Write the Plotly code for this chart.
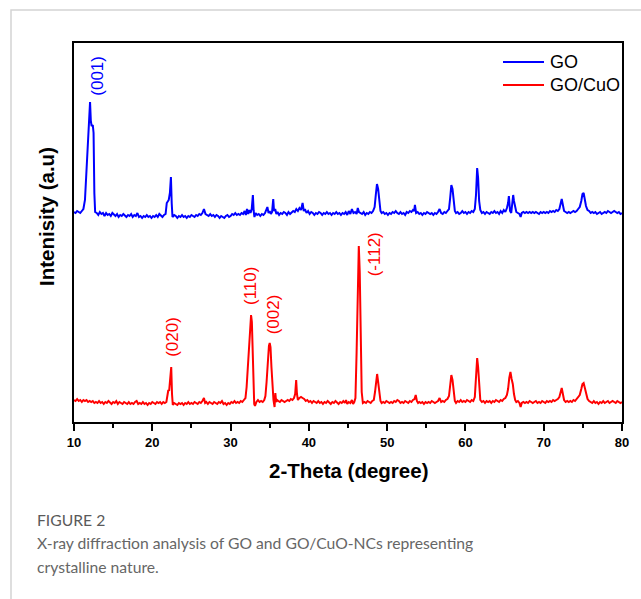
import plotly.graph_objects as go

# 2-theta positions (degree) and intensities (a.u.) for GO
go_theta = [
    10.0, 10.2, 10.4, 10.6, 10.8, 11.0, 11.2, 11.4, 11.6, 11.8, 11.95, 12.05, 12.15, 12.25, 12.4, 12.5, 12.6, 12.7,
    12.9, 13.1, 13.3, 13.5, 13.7, 13.9, 14.1, 14.3, 14.5, 14.7, 14.9, 15.1, 15.3, 15.5, 15.7, 15.9, 16.1, 16.3,
    16.5, 16.7, 16.9, 17.1, 17.3, 17.5, 17.7, 17.9, 18.1, 18.3, 18.5, 18.7, 18.9, 19.1, 19.3, 19.5, 19.7, 19.9,
    20.1, 20.3, 20.5, 20.7, 20.9, 21.1, 21.3, 21.5, 21.7, 21.85, 22.0, 22.1, 22.25, 22.38, 22.48, 22.58, 22.8,
    23.0, 23.2, 23.4, 23.6, 23.8, 24.0, 24.2, 24.4, 24.6, 24.8, 25.0, 25.2, 25.4, 25.6, 25.8, 26.0, 26.2, 26.4,
    26.6, 26.8, 27.0, 27.2, 27.4, 27.6, 27.8, 28.0, 28.2, 28.4, 28.6, 28.8, 29.0, 29.2, 29.4, 29.6, 29.8, 30.0,
    30.2, 30.4, 30.6, 30.8, 31.0, 31.2, 31.4, 31.6, 31.8, 31.95, 32.1, 32.25, 32.4, 32.55, 32.7, 32.85, 32.95,
    33.05, 33.2, 33.4, 33.6, 33.8, 34.0, 34.2, 34.4, 34.55, 34.7, 34.85, 35.0, 35.15, 35.3, 35.45, 35.55, 35.7,
    35.85, 36.0, 36.2, 36.4, 36.6, 36.8, 37.0, 37.2, 37.4, 37.6, 37.8, 38.0, 38.2, 38.4, 38.6, 38.8, 39.0, 39.2,
    39.35, 39.5, 39.7, 39.9, 40.1, 40.3, 40.5, 40.7, 40.9, 41.1, 41.3, 41.5, 41.7, 41.9, 42.1, 42.3, 42.5, 42.7,
    42.9, 43.1, 43.3, 43.5, 43.7, 43.9, 44.1, 44.3, 44.5, 44.7, 44.9, 45.1, 45.3, 45.5, 45.7, 45.9, 46.1, 46.25,
    46.4, 46.6, 46.8, 47.0, 47.2, 47.4, 47.6, 47.8, 48.0, 48.2, 48.4, 48.55, 48.7, 48.85, 49.0, 49.15, 49.3,
    49.5, 49.7, 49.9, 50.1, 50.3, 50.5, 50.7, 50.9, 51.1, 51.3, 51.5, 51.7, 51.9, 52.1, 52.3, 52.5, 52.7, 52.9,
    53.1, 53.3, 53.45, 53.55, 53.7, 53.9, 54.1, 54.3, 54.5, 54.7, 54.9, 55.1, 55.3, 55.5, 55.7, 55.9, 56.1,
    56.3, 56.5, 56.7, 56.9, 57.1, 57.3, 57.5, 57.7, 57.9, 58.05, 58.2, 58.35, 58.5, 58.65, 58.8, 59.0, 59.2,
    59.4, 59.6, 59.8, 60.0, 60.2, 60.4, 60.6, 60.8, 61.0, 61.2, 61.35, 61.5, 61.62, 61.75, 61.9, 62.1, 62.3,
    62.5, 62.7, 62.9, 63.1, 63.3, 63.5, 63.7, 63.9, 64.1, 64.3, 64.5, 64.7, 64.9, 65.1, 65.3, 65.45, 65.55,
    65.7, 65.85, 65.95, 66.1, 66.2, 66.35, 66.5, 66.7, 66.9, 67.05, 67.2, 67.4, 67.6, 67.8, 68.0, 68.2, 68.4,
    68.6, 68.8, 69.0, 69.2, 69.4, 69.6, 69.8, 70.0, 70.2, 70.4, 70.6, 70.8, 71.0, 71.2, 71.4, 71.6, 71.8, 72.0,
    72.15, 72.3, 72.45, 72.6, 72.8, 73.0, 73.2, 73.4, 73.6, 73.8, 74.0, 74.2, 74.4, 74.6, 74.8, 74.95, 75.1,
    75.25, 75.4, 75.6, 75.8, 76.0, 76.2, 76.4, 76.6, 76.8, 77.0, 77.2, 77.4, 77.6, 77.8, 78.0, 78.2, 78.4, 78.6,
    78.8, 79.0, 79.2, 79.4, 79.6, 79.8, 80.0,
]
go_intensity = [
    21, 20, 22, 21, 20, 22, 24, 33, 60, 95, 120, 131, 112, 107, 108, 100, 40, 21,
    20, 18, 21, 19, 20, 17, 20, 18, 19, 17, 20, 18, 17, 19, 16, 18, 17, 19,
    17, 16, 18, 17, 19, 16, 18, 17, 20, 16, 17, 15, 17, 16, 18, 16, 17, 15,
    17, 16, 18, 16, 19, 17, 16, 18, 19, 30, 33, 33, 40, 56, 30, 16, 18,
    17, 15, 17, 16, 18, 16, 17, 15, 17, 16, 18, 17, 16, 18, 17, 19, 18, 20,
    24, 19, 18, 17, 19, 17, 18, 16, 18, 17, 15, 17, 16, 15, 17, 18, 16, 17,
    19, 18, 20, 18, 19, 18, 20, 19, 22, 18, 24, 19, 23, 20, 24, 38, 22,
    16, 20, 18, 19, 17, 19, 18, 20, 23, 26, 20, 22, 19, 21, 34, 22, 24,
    19, 21, 18, 20, 19, 21, 20, 18, 21, 19, 21, 22, 21, 24, 22, 25, 23, 30,
    22, 24, 20, 22, 19, 21, 20, 18, 20, 19, 21, 20, 18, 20, 19, 21, 19, 20,
    18, 20, 19, 21, 19, 20, 18, 20, 19, 21, 18, 22, 19, 24, 20, 21, 19, 25,
    21, 20, 19, 21, 18, 20, 19, 21, 20, 22, 26, 38, 49, 44, 28, 22, 20,
    21, 19, 20, 18, 20, 19, 21, 20, 22, 20, 19, 21, 19, 20, 18, 21, 20, 22,
    21, 23, 22, 28, 20, 21, 19, 20, 18, 20, 19, 21, 20, 19, 20, 18, 20,
    19, 21, 24, 20, 19, 21, 20, 22, 24, 35, 48, 44, 30, 22, 20, 21, 19,
    20, 22, 20, 21, 19, 21, 20, 22, 21, 24, 38, 65, 55, 32, 23, 20, 21,
    19, 21, 20, 19, 21, 20, 22, 20, 21, 19, 22, 20, 23, 21, 25, 30, 37,
    22, 20, 30, 38, 32, 24, 21, 20, 19, 16, 20, 21, 20, 21, 20, 21, 20,
    21, 20, 21, 20, 19, 21, 20, 21, 20, 21, 20, 22, 21, 22, 21, 23, 22, 24,
    29, 34, 28, 22, 21, 20, 21, 20, 21, 22, 21, 22, 24, 26, 32, 39, 40,
    34, 27, 23, 22, 20, 21, 20, 21, 19, 20, 21, 19, 20, 21, 20, 22, 21, 20,
    21, 22, 21, 20, 21, 19, 20,
]

# 2-theta positions (degree) and intensities (a.u.) for GO/CuO
cuo_theta = [
    10.0, 10.2, 10.4, 10.6, 10.8, 11.0, 11.2, 11.4, 11.6, 11.8, 12.0, 12.2, 12.4, 12.6, 12.8, 13.0, 13.2, 13.4,
    13.6, 13.8, 14.0, 14.2, 14.4, 14.6, 14.8, 15.0, 15.2, 15.4, 15.6, 15.8, 16.0, 16.2, 16.4, 16.6, 16.8, 17.0,
    17.2, 17.4, 17.6, 17.8, 18.0, 18.2, 18.4, 18.6, 18.8, 19.0, 19.2, 19.4, 19.6, 19.8, 20.0, 20.2, 20.4, 20.6,
    20.8, 21.0, 21.2, 21.4, 21.6, 21.8, 21.95, 22.05, 22.15, 22.28, 22.42, 22.52, 22.62, 22.8, 23.0, 23.2,
    23.4, 23.6, 23.8, 24.0, 24.2, 24.4, 24.6, 24.8, 25.0, 25.2, 25.4, 25.6, 25.8, 26.0, 26.2, 26.4, 26.6,
    26.75, 26.9, 27.1, 27.3, 27.5, 27.7, 27.9, 28.1, 28.3, 28.5, 28.7, 28.9, 29.1, 29.3, 29.5, 29.7, 29.9,
    30.1, 30.3, 30.5, 30.7, 30.9, 31.1, 31.3, 31.5, 31.7, 31.9, 32.05, 32.2, 32.35, 32.5, 32.62, 32.72, 32.82,
    32.92, 33.02, 33.12, 33.3, 33.5, 33.7, 33.9, 34.1, 34.3, 34.45, 34.6, 34.75, 34.9, 35.0, 35.1, 35.22,
    35.35, 35.48, 35.62, 35.72, 35.82, 35.95, 36.1, 36.3, 36.5, 36.7, 36.9, 37.1, 37.3, 37.5, 37.7, 37.9,
    38.1, 38.25, 38.38, 38.48, 38.6, 38.8, 39.0, 39.2, 39.4, 39.6, 39.8, 40.0, 40.2, 40.4, 40.6, 40.8, 41.0,
    41.2, 41.4, 41.6, 41.8, 42.0, 42.2, 42.4, 42.6, 42.8, 43.0, 43.2, 43.4, 43.6, 43.8, 44.0, 44.2, 44.4,
    44.6, 44.75, 44.9, 45.1, 45.3, 45.5, 45.65, 45.8, 45.95, 46.1, 46.25, 46.38, 46.5, 46.62, 46.75, 46.9,
    47.1, 47.3, 47.5, 47.7, 47.9, 48.1, 48.3, 48.45, 48.6, 48.72, 48.85, 49.0, 49.15, 49.3, 49.5, 49.7,
    49.9, 50.1, 50.3, 50.5, 50.7, 50.9, 51.1, 51.3, 51.5, 51.7, 51.9, 52.1, 52.3, 52.5, 52.7, 52.9, 53.1,
    53.3, 53.5, 53.65, 53.8, 53.95, 54.1, 54.3, 54.5, 54.7, 54.9, 55.1, 55.3, 55.5, 55.7, 55.9, 56.1, 56.3,
    56.5, 56.7, 56.9, 57.1, 57.3, 57.5, 57.7, 57.9, 58.05, 58.2, 58.35, 58.5, 58.65, 58.8, 59.0, 59.2, 59.4,
    59.6, 59.8, 60.0, 60.2, 60.4, 60.6, 60.8, 61.0, 61.2, 61.35, 61.5, 61.62, 61.75, 61.9, 62.1, 62.3, 62.5,
    62.7, 62.9, 63.1, 63.3, 63.5, 63.7, 63.9, 64.1, 64.3, 64.5, 64.7, 64.9, 65.1, 65.3, 65.45, 65.6, 65.75,
    65.9, 66.05, 66.2, 66.35, 66.5, 66.7, 66.9, 67.05, 67.2, 67.4, 67.6, 67.8, 68.0, 68.2, 68.4, 68.6, 68.8,
    69.0, 69.2, 69.4, 69.6, 69.8, 70.0, 70.2, 70.4, 70.6, 70.8, 71.0, 71.2, 71.4, 71.6, 71.8, 72.0, 72.15,
    72.3, 72.45, 72.6, 72.8, 73.0, 73.2, 73.4, 73.6, 73.8, 74.0, 74.2, 74.4, 74.6, 74.8, 74.95, 75.1, 75.25,
    75.4, 75.6, 75.8, 76.0, 76.2, 76.4, 76.6, 76.8, 77.0, 77.2, 77.4, 77.6, 77.8, 78.0, 78.2, 78.4, 78.6,
    78.8, 79.0, 79.2, 79.4, 79.6, 79.8, 80.0,
]
cuo_intensity = [
    22, 21, 23, 21, 22, 20, 22, 21, 22, 20, 21, 20, 21, 19, 20, 19, 21, 19,
    20, 18, 20, 19, 21, 19, 18, 20, 19, 21, 18, 20, 19, 18, 20, 19, 18, 20,
    18, 19, 18, 20, 21, 18, 19, 18, 20, 18, 19, 17, 19, 18, 20, 19, 18, 20,
    19, 20, 18, 20, 19, 20, 30, 32, 31, 40, 55, 28, 17, 19, 18, 17,
    19, 18, 19, 17, 19, 18, 20, 18, 19, 18, 20, 19, 18, 20, 19, 21, 24,
    19, 20, 18, 20, 19, 18, 20, 19, 18, 20, 19, 21, 18, 19, 17, 19, 18,
    20, 19, 21, 19, 20, 19, 21, 20, 22, 24, 35, 55, 78, 98, 107, 100, 70,
    35, 18, 16, 20, 22, 20, 21, 20, 22, 26, 40, 60, 76, 79, 75, 55,
    30, 22, 15, 29, 20, 22, 21, 20, 22, 21, 20, 21, 22, 21, 23, 22,
    24, 28, 42, 28, 22, 24, 25, 24, 23, 21, 22, 20, 21, 19, 21, 20, 19,
    21, 19, 20, 18, 20, 19, 21, 19, 18, 20, 19, 21, 19, 18, 20, 19, 21,
    19, 22, 18, 20, 19, 22, 18, 20, 24, 70, 140, 176, 150, 80, 30, 19,
    20, 19, 21, 20, 19, 21, 22, 30, 42, 48, 40, 27, 21, 19, 20, 19,
    21, 20, 19, 20, 19, 21, 20, 22, 21, 19, 20, 19, 21, 20, 19, 21, 20,
    22, 23, 27, 21, 19, 20, 19, 20, 18, 20, 19, 20, 19, 21, 20, 19, 20,
    21, 24, 20, 21, 20, 22, 23, 26, 36, 47, 42, 28, 21, 19, 21, 20, 22,
    20, 21, 20, 22, 21, 20, 22, 21, 25, 40, 64, 55, 33, 22, 20, 21, 19,
    21, 20, 21, 19, 21, 20, 22, 21, 20, 22, 21, 23, 24, 27, 33, 44, 50,
    43, 38, 28, 22, 20, 21, 19, 15, 19, 20, 19, 20, 19, 21, 20, 19, 20,
    21, 19, 20, 19, 21, 20, 19, 21, 20, 21, 20, 22, 21, 22, 23, 25, 30,
    34, 28, 22, 20, 21, 20, 21, 20, 22, 21, 23, 24, 27, 33, 38, 39, 34,
    27, 23, 21, 20, 19, 21, 19, 20, 18, 20, 19, 21, 19, 20, 21, 19, 20,
    21, 20, 19, 21, 20, 19, 20,
]

# vertical shift used to stack the GO pattern above GO/CuO
go_shift = 189

# Miller-index labels: (text, 2-theta, height, colour)
peak_labels = [
    ("(001)", 12.9, 346, "#0000FF"),
    ("(020)", 22.5, 85, "#FF0000"),
    ("(110)", 32.48, 136, "#FF0000"),
    ("(002)", 35.46, 108, "#FF0000"),
    ("(-112)", 48.36, 168, "#FF0000"),
]

series_names = ["GO", "GO/CuO"]
series_colors = ["#0000FF", "#FF0000"]

caption_title = "FIGURE 2"
caption_lines = [
    "X-ray diffraction analysis of GO and GO/CuO-NCs representing",
    "crystalline nature.",
]

W, H = 641, 599
L, R, T, B = 74, 19, 43, 177
PW, PH = W - L - R, H - T - B


def px(x):
    return (x - L) / PW


def py(y):
    return (H - B - y) / PH


AX_FONT = "Liberation Sans, Arial, sans-serif"
CAP_FONT = "Lato, Open Sans, sans-serif"

fig = go.Figure()
fig.add_trace(go.Scatter(
    x=go_theta, y=[v + go_shift for v in go_intensity], mode="lines",
    name=series_names[0], line=dict(color=series_colors[0], width=2), showlegend=False,
))
fig.add_trace(go.Scatter(
    x=cuo_theta, y=cuo_intensity, mode="lines",
    name=series_names[1], line=dict(color=series_colors[1], width=2), showlegend=False,
))

annotations = []
for text, xx, yy, col in peak_labels:
    annotations.append(dict(
        x=xx, y=yy, xref="x", yref="y", text=text, showarrow=False, textangle=-90,
        font=dict(family=AX_FONT, size=17, color=col), xanchor="center", yanchor="middle",
    ))

# legend drawn as short line samples with labels
shapes = []
for i, (name, col) in enumerate(zip(series_names, series_colors)):
    ly = 62 + 23 * i
    shapes.append(dict(type="line", xref="paper", yref="paper",
                       x0=px(503), x1=px(544), y0=py(ly), y1=py(ly),
                       line=dict(color=col, width=2)))
    annotations.append(dict(x=px(548), y=py(ly), xref="paper", yref="paper", text=name,
                            showarrow=False, xanchor="left", yanchor="middle",
                            font=dict(family=AX_FONT, size=18, color="black")))

# card outline around the figure
shapes.append(dict(type="rect", xref="paper", yref="paper",
                   x0=px(11), x1=px(680), y0=py(640), y1=py(10),
                   line=dict(color="#d4d4d4", width=1.5), layer="below"))

# axis titles
annotations.append(dict(x=px(46), y=py(217), xref="paper", yref="paper",
                        text="Intenisity (a.u)", textangle=-90, showarrow=False,
                        xanchor="center", yanchor="middle",
                        font=dict(family=AX_FONT, size=20.5, color="black", weight="bold")))
annotations.append(dict(x=px(348), y=py(470), xref="paper", yref="paper",
                        text="2-Theta (degree)", showarrow=False,
                        xanchor="center", yanchor="middle",
                        font=dict(family=AX_FONT, size=20.5, color="black", weight="bold")))

# caption
annotations.append(dict(x=px(35), y=py(520), xref="paper", yref="paper", text=caption_title,
                        showarrow=False, xanchor="left", yanchor="middle",
                        font=dict(family=CAP_FONT, size=15.7, color="#5a5a5a")))
for i, line in enumerate(caption_lines):
    annotations.append(dict(x=px(35), y=py(543 + 24 * i), xref="paper", yref="paper", text=line,
                            showarrow=False, xanchor="left", yanchor="middle",
                            font=dict(family=CAP_FONT, size=15.7, color="#666666")))

fig.update_layout(
    width=W, height=H,
    margin=dict(l=L, r=R, t=T, b=B),
    paper_bgcolor="white", plot_bgcolor="white",
    showlegend=False,
    annotations=annotations,
    shapes=shapes,
    xaxis=dict(
        range=[10, 80], dtick=10, tick0=10, showgrid=False, zeroline=False,
        showline=True, linecolor="black", linewidth=2, mirror=True,
        ticks="outside", ticklen=7, tickwidth=1.5, tickcolor="black",
        minor=dict(dtick=5, ticks="outside", ticklen=4, tickwidth=1.5, tickcolor="black"),
        tickfont=dict(family=AX_FONT, size=13, color="black", weight="bold"),
    ),
    yaxis=dict(
        range=[0, 379], showgrid=False, zeroline=False, showticklabels=False,
        showline=True, linecolor="black", linewidth=2, mirror=True, ticks="",
    ),
)

fig.write_html("out.html")
